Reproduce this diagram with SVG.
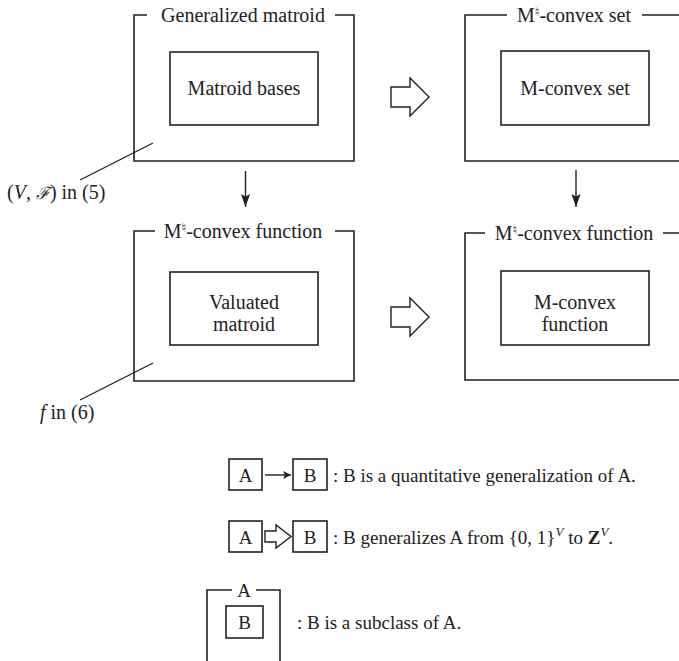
<svg xmlns="http://www.w3.org/2000/svg" width="679" height="661" viewBox="0 0 679 661" font-family="'Liberation Serif', 'Times New Roman', Times, serif">
<defs>
<style>
text{font-family:'Liberation Serif','Times New Roman',Times,serif;fill:#222;font-size:20px}
.lg{font-size:19px}
.box{fill:none;stroke:#222;stroke-width:1.6}
.ln{fill:none;stroke:#222;stroke-width:1.4}
.ha{fill:#fff;stroke:#222;stroke-width:1.4;stroke-linejoin:miter}
.nat{font-family:'DejaVu Serif','DejaVu Sans',serif;font-size:13px}
</style>
<marker id="ah" viewBox="0 0 10 10" refX="10" refY="5" markerWidth="8" markerHeight="8" orient="auto" markerUnits="userSpaceOnUse">
<path d="M0,0 L10,5 L0,10 L2.5,5 Z" fill="#222"/>
</marker>
<marker id="ahd" viewBox="0 0 10 10" refX="10" refY="5" markerWidth="13" markerHeight="13" orient="auto" markerUnits="userSpaceOnUse">
<path d="M0,1.5 L10,5 L0,8.5 L2,5 Z" fill="#222"/>
</marker>
</defs>

<g id="gen-matroid">
<path class="box" d="M147,15 H134 V161 H354 V15 H335"/>
<text x="243" y="22" text-anchor="middle">Generalized matroid</text>
<g id="matroid-bases">
<rect class="box" x="170" y="52" width="148" height="73"/>
<text x="244" y="95" text-anchor="middle">Matroid bases</text>
</g>
</g>

<g id="mnat-set">
<path class="box" d="M507,15 H465 V161 H681 M642,15 H681"/>
<text x="574" y="22" text-anchor="middle">M<tspan class="nat" dy="-6">♮</tspan><tspan dy="6">-convex set</tspan></text>
<g id="m-convex-set">
<rect class="box" x="501" y="51" width="148" height="74"/>
<text x="575" y="95" text-anchor="middle">M-convex set</text>
</g>
</g>

<g id="mnat-func-left">
<path class="box" d="M155,231 H134 V381 H354 V231 H335"/>
<text x="243" y="238" text-anchor="middle">M<tspan class="nat" dy="-6">♮</tspan><tspan dy="6">-convex function</tspan></text>
<g id="valuated-matroid">
<rect class="box" x="170" y="272" width="148" height="73"/>
<text x="244" y="309" text-anchor="middle">Valuated</text>
<text x="244" y="331" text-anchor="middle">matroid</text>
</g>
</g>

<g id="mnat-func-right">
<path class="box" d="M485,233 H465 V380 H681 M663,233 H681"/>
<text x="574" y="240" text-anchor="middle">M<tspan class="nat" dy="-6">♮</tspan><tspan dy="6">-convex function</tspan></text>
<g id="m-convex-func">
<rect class="box" x="501" y="271" width="148" height="74"/>
<text x="575" y="309" text-anchor="middle">M-convex</text>
<text x="575" y="331" text-anchor="middle">function</text>
</g>
</g>

<g id="label-vf">
<text x="7" y="199">(<tspan font-style="italic">V</tspan>, <tspan font-style="italic" font-family="'DejaVu Serif', serif" font-size="17">ℱ</tspan>) in (5)</text>
</g>
<g id="label-f">
<text x="40" y="419"><tspan font-style="italic">f</tspan> in (6)</text>
</g>

<g id="connectors">
<line class="ln" x1="153" y1="143" x2="80" y2="180"/>
<line class="ln" x1="153" y1="363" x2="80" y2="400"/>
<line class="ln" x1="245.5" y1="171" x2="245.5" y2="207" marker-end="url(#ahd)"/>
<line class="ln" x1="576" y1="170" x2="576" y2="207" marker-end="url(#ahd)"/>
<polygon class="ha" points="391,87 410,87 410,78 429,97 410,116 410,107 391,107"/>
<polygon class="ha" points="391,307 410,307 410,298 429,317 410,336 410,327 391,327"/>
</g>

<g id="legend">
<g id="legend1">
<rect class="box" x="229" y="459" width="33" height="31"/>
<text class="lg" x="245.5" y="482" text-anchor="middle">A</text>
<line class="ln" x1="265" y1="475" x2="291" y2="475" marker-end="url(#ah)"/>
<rect class="box" x="293" y="459" width="34" height="31"/>
<text class="lg" x="310" y="482" text-anchor="middle">B</text>
<text class="lg" x="333" y="482">: B is a quantitative generalization of A.</text>
</g>
<g id="legend2">
<rect class="box" x="229" y="521" width="33" height="31"/>
<text class="lg" x="245.5" y="544" text-anchor="middle">A</text>
<polygon class="ha" points="265,531 276,531 276,525 291,536.5 276,548 276,542 265,542"/>
<rect class="box" x="293" y="521" width="34" height="31"/>
<text class="lg" x="310" y="544" text-anchor="middle">B</text>
<text class="lg" x="333" y="544">: B generalizes A from {0, 1}<tspan font-size="13" font-style="italic" dy="-8">V</tspan><tspan dy="8"> to </tspan><tspan font-weight="bold">Z</tspan><tspan font-size="13" font-style="italic" dy="-8">V</tspan><tspan dy="8">.</tspan></text>
</g>
<g id="legend3">
<path class="box" d="M232,590 H207 V661 M256,590 H280 V661"/>
<text class="lg" x="244" y="597" text-anchor="middle">A</text>
<rect class="box" x="226" y="606" width="37" height="32"/>
<text class="lg" x="244.5" y="629" text-anchor="middle">B</text>
<text class="lg" x="297" y="629">: B is a subclass of A.</text>
</g>
</g>
</svg>
